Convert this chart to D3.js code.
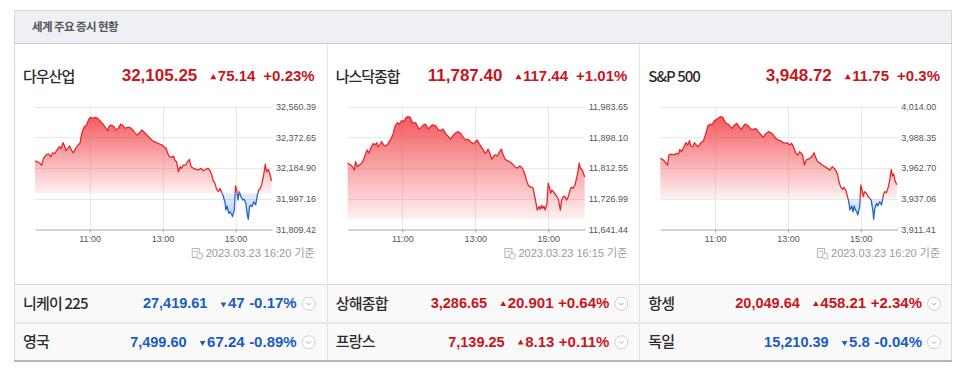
<!DOCTYPE html>
<html>
<head>
<meta charset="utf-8">
<script src="https://cdn.jsdelivr.net/npm/d3@7"></script>
<style>
    body { margin: 0; background: #fff; }
    svg text { font-family: "Liberation Sans", Arial, "Noto Sans CJK KR", sans-serif; }
    svg text.kr { font-family: "Noto Sans CJK KR", "Liberation Sans", sans-serif; }
</style>
</head>
<body>
<svg id="chart" width="960" height="377"></svg>
<script>
// ---- data ----
var titleText = "세계 주요 증시 현황";

var indexNames = ["다우산업", "나스닥종합", "S&P 500"];
var indexCloses = [32105.25, 11787.40, 3948.72];
var indexChanges = [75.14, 117.44, 11.75];
var indexPcts = ["+0.23%", "+1.01%", "+0.3%"];
var indexStamps = ["2023.03.23 16:20 기준", "2023.03.23 16:15 기준", "2023.03.23 16:20 기준"];

var timeTicks = ["11:00", "13:00", "15:00"];
var dowTicks = [32560.39, 32372.65, 32184.90, 31997.16, 31809.42];
var nasdaqTicks = [11983.65, 11898.10, 11812.55, 11726.99, 11641.44];
var spTicks = [4014.00, 3988.35, 3962.70, 3937.06, 3911.41];

// [minutes after 09:30, index value]
var dowSeries = [[0,32228],[4,32223],[8,32214],[11,32201],[14,32244],[18,32264],[22,32271],[26,32254],[29,32278],[33,32275],[36,32295],[40,32315],[43,32305],[46,32340],[48,32326],[51,32291],[54,32305],[57,32320],[60,32295],[63,32278],[67,32305],[71,32326],[74,32336],[77,32397],[81,32438],[85,32448],[88,32479],[91,32495],[95,32489],[99,32495],[103,32489],[107,32475],[110,32459],[112,32454],[117,32428],[120,32413],[122,32442],[126,32448],[130,32438],[133,32418],[137,32428],[141,32454],[144,32448],[148,32428],[152,32434],[156,32434],[161,32418],[165,32397],[168,32387],[172,32401],[176,32418],[179,32407],[184,32387],[188,32373],[192,32356],[196,32346],[200,32340],[205,32332],[209,32326],[212,32315],[216,32305],[218,32278],[221,32254],[225,32250],[228,32258],[230,32234],[233,32223],[236,32162],[239,32193],[241,32183],[244,32203],[248,32203],[251,32223],[254,32238],[257,32193],[261,32183],[265,32177],[269,32173],[273,32183],[277,32168],[281,32177],[285,32183],[288,32168],[291,32142],[293,32111],[296,32091],[299,32054],[302,32040],[304,32060],[307,32040],[310,32009],[313,31969],[314,31928],[316,31952],[319,31907],[321,31917],[324,31897],[325,31887],[328,31928],[330,32075],[332,32050],[334,31989],[336,32040],[339,32009],[342,31989],[344,31993],[347,31969],[349,31907],[351,31871],[353,31948],[355,31958],[357,31948],[360,31978],[363,31958],[366,32019],[368,32050],[370,32054],[373,32081],[376,32136],[379,32209],[381,32162],[384,32177],[387,32142],[389,32105.25]];

var nasdaqSeries = [[0,11826],[5,11821],[8,11816],[11,11807],[13,11830],[16,11816],[19,11821],[23,11826],[26,11835],[30,11854],[32,11863],[35,11854],[39,11872],[42,11881],[45,11877],[48,11883],[50,11872],[53,11877],[56,11886],[59,11877],[62,11874],[66,11879],[71,11893],[75,11909],[78,11930],[82,11939],[85,11935],[89,11945],[93,11942],[95,11951],[99,11956],[103,11954],[105,11945],[108,11937],[112,11939],[115,11928],[118,11921],[122,11928],[126,11935],[129,11933],[133,11921],[136,11928],[140,11933],[145,11930],[149,11919],[153,11917],[157,11921],[161,11909],[166,11900],[169,11893],[173,11902],[178,11911],[182,11914],[186,11909],[190,11898],[194,11891],[198,11893],[202,11886],[206,11881],[209,11883],[213,11891],[216,11881],[219,11874],[223,11863],[226,11854],[229,11858],[231,11865],[234,11854],[237,11837],[240,11844],[242,11849],[246,11846],[250,11858],[253,11865],[255,11854],[259,11837],[263,11833],[266,11830],[271,11824],[275,11816],[279,11812],[283,11818],[286,11815],[289,11807],[292,11793],[294,11779],[297,11765],[300,11759],[302,11760],[305,11756],[308,11732],[310,11714],[312,11695],[315,11705],[317,11697],[319,11709],[321,11700],[323,11706],[325,11695],[328,11714],[330,11770],[332,11759],[334,11742],[336,11751],[339,11746],[342,11737],[345,11732],[347,11723],[350,11695],[352,11723],[355,11732],[357,11734],[360,11723],[363,11732],[366,11751],[368,11759],[371,11756],[374,11765],[376,11779],[379,11802],[381,11826],[383,11812],[386,11807],[388,11798],[390,11787.40]];

var spSeries = [[0,3970.8],[5,3969.4],[9,3967.1],[12,3965.2],[14,3973.6],[19,3974.4],[23,3973.6],[26,3975.0],[30,3974.4],[32,3978.3],[35,3976.3],[39,3980.5],[42,3983.9],[45,3981.9],[48,3985.5],[50,3981.1],[53,3980.5],[56,3983.9],[59,3981.9],[62,3980.5],[66,3983.4],[71,3985.5],[75,3991.7],[78,3997.8],[82,3999.5],[85,3998.7],[89,4002.3],[93,4003.4],[95,4004.3],[99,4005.6],[103,4005.1],[105,4002.9],[108,4000.1],[112,3999.5],[115,3997.3],[118,3995.9],[122,3998.7],[126,4000.1],[129,3997.8],[133,3995.1],[136,3997.3],[140,3999.5],[145,3997.8],[149,3995.1],[153,3995.1],[157,3995.9],[161,3993.1],[166,3990.3],[169,3988.4],[173,3991.1],[178,3993.1],[182,3992.2],[186,3990.3],[190,3987.5],[194,3986.1],[198,3985.5],[202,3983.9],[206,3983.4],[209,3983.9],[213,3981.9],[216,3983.4],[219,3980.5],[223,3975.0],[226,3973.6],[229,3976.3],[231,3975.5],[234,3973.6],[237,3965.2],[240,3969.4],[242,3970.0],[246,3970.8],[250,3972.7],[253,3975.5],[255,3972.2],[259,3968.0],[263,3966.6],[266,3965.2],[271,3963.8],[275,3962.4],[279,3961.0],[283,3963.8],[286,3962.4],[289,3960.4],[292,3956.8],[294,3951.2],[297,3946.5],[300,3944.9],[302,3946.5],[305,3944.3],[308,3938.7],[310,3934.5],[312,3927.6],[315,3930.9],[317,3926.1],[319,3930.9],[321,3927.6],[323,3926.1],[325,3923.4],[328,3930.3],[330,3948.5],[332,3944.3],[334,3938.7],[336,3942.9],[339,3941.5],[342,3938.7],[345,3937.3],[347,3935.9],[350,3926.1],[351,3919.8],[353,3929.0],[356,3933.2],[358,3930.9],[361,3934.5],[364,3931.7],[367,3940.1],[369,3942.9],[372,3942.0],[375,3946.5],[378,3954.1],[380,3961.6],[382,3956.0],[384,3957.7],[386,3952.7],[389,3948.72]];

// bottom table, row by row, left to right
var rowNames = ["니케이 225", "상해종합", "항셍", "영국", "프랑스", "독일"];
var rowValues = ["27,419.61", "3,286.65", "20,049.64", "7,499.60", "7,139.25", "15,210.39"];
var rowChanges = ["47", "20.901", "458.21", "67.24", "8.13", "5.8"];
var rowPcts = ["-0.17%", "+0.64%", "+2.34%", "-0.89%", "+0.11%", "-0.04%"];

// ---- drawing ----
var svg = d3.select("#chart");

var red = "#c8161d", blue = "#1b5cbf";
var lineRed = "#e8262e", lineBlue = "#2266cc";

var boxLeft = 14, boxRight = 952, boxTop = 10, headBottom = 43, chartBottom = 284, boxBottom = 361;
var colW = (boxRight - boxLeft) / 3;
var rowH = (boxBottom - chartBottom) / 2;

var parseTime = d3.timeParse("%Y-%m-%d %H:%M");
var day = "2023-03-23 ";
var openTime = parseTime(day + "09:30");
var closeTime = parseTime(day + "16:00");

var defs = svg.append("defs");

// frame
svg.append("rect")
    .attr("x", boxLeft + 0.5).attr("y", boxTop + 0.5)
    .attr("width", boxRight - boxLeft - 1).attr("height", boxBottom - boxTop - 1)
    .attr("fill", "#fff").attr("stroke", "#d6d9e1");

svg.append("rect")
    .attr("x", boxLeft + 1).attr("y", boxTop + 1)
    .attr("width", boxRight - boxLeft - 2).attr("height", headBottom - boxTop - 1)
    .attr("fill", "#eef0f6");

svg.append("line")
    .attr("x1", boxLeft).attr("x2", boxRight)
    .attr("y1", headBottom + 0.5).attr("y2", headBottom + 0.5)
    .attr("stroke", "#c5c9d5");

svg.append("text")
    .attr("class", "kr")
    .attr("x", 32).attr("y", 30.5)
    .style("font-size", "11.5px")
    .style("font-weight", "bold")
    .style("letter-spacing", "-0.6px")
    .attr("fill", "#555")
    .text(titleText);

// table background and lines
svg.append("rect")
    .attr("x", boxLeft + 1).attr("y", chartBottom)
    .attr("width", boxRight - boxLeft - 2).attr("height", boxBottom - chartBottom)
    .attr("fill", "#f9f9fa");

[chartBottom, chartBottom + rowH].forEach(function (yy) {
    svg.append("line")
        .attr("x1", boxLeft).attr("x2", boxRight)
        .attr("y1", yy + 0.5).attr("y2", yy + 0.5)
        .attr("stroke", "#d9d9d9");
});

svg.append("line")
    .attr("x1", boxLeft).attr("x2", boxRight)
    .attr("y1", boxBottom).attr("y2", boxBottom)
    .attr("stroke", "#9a9ea8").attr("stroke-width", 1.5);

[1, 2].forEach(function (i) {
    var xx = Math.round(boxLeft + i * colW) + 0.5;
    svg.append("line")
        .attr("x1", xx).attr("x2", xx)
        .attr("y1", headBottom + 1).attr("y2", boxBottom - 1)
        .attr("stroke", "#e4e4e4");
});

// value, triangle, change and percent, laid out from the right edge
function drawQuote(g, right, baseline, value, change, pct, up, valueSize, changeSize, gap, triArea, triLift) {
    var color = up ? red : blue;

    var pctText = g.append("text")
        .attr("x", right).attr("y", baseline)
        .attr("text-anchor", "end")
        .style("font-size", changeSize + "px").style("font-weight", "bold")
        .attr("fill", color)
        .text(pct);
    var pctStart = right - pctText.node().getComputedTextLength();

    var chText = g.append("text")
        .attr("x", pctStart - gap).attr("y", baseline)
        .attr("text-anchor", "end")
        .style("font-size", changeSize + "px").style("font-weight", "bold")
        .attr("fill", color)
        .text(change);
    var chStart = pctStart - gap - chText.node().getComputedTextLength();

    var triX = chStart - 4.5;
    g.append("path")
        .attr("d", d3.symbol(d3.symbolTriangle, triArea)())
        .attr("transform", "translate(" + triX + "," + (baseline - triLift) + ") rotate(" + (up ? 0 : 180) + ")")
        .attr("fill", color);

    g.append("text")
        .attr("x", triX - 16).attr("y", baseline)
        .attr("text-anchor", "end")
        .style("font-size", valueSize + "px").style("font-weight", "bold")
        .attr("fill", color)
        .text(value);
}

var panels = [
    {ticks: dowTicks, series: dowSeries},
    {ticks: nasdaqTicks, series: nasdaqSeries},
    {ticks: spTicks, series: spSeries}
];

panels.forEach(function (p, i) {
    var left = boxLeft + i * colW;
    var right = left + colW;
    var g = svg.append("g").attr("class", "panel");

    // heading
    g.append("text")
        .attr("class", "kr")
        .attr("x", left + 9).attr("y", 82)
        .style("font-size", "15px")
        .style("font-weight", 500)
        .style("letter-spacing", "-1px")
        .attr("fill", "#2b2b2b")
        .text(indexNames[i]);

    drawQuote(g, right - 12, 81, d3.format(",.2f")(indexCloses[i]), String(indexChanges[i]),
        indexPcts[i], true, 17, 15, 8, 16, 3.5);

    // chart
    var plotLeft = left + 21, plotRight = plotLeft + 237;
    var plotTop = 106.7, plotBottom = 229.3;

    var x = d3.scaleTime().domain([openTime, closeTime]).range([plotLeft, plotRight]);
    var y = d3.scaleLinear().domain(d3.extent(p.ticks)).range([plotBottom, plotTop]);

    var prevClose = indexCloses[i] - indexChanges[i];
    var baseY = y(prevClose);

    var data = p.series.map(function (d) {
        return {t: d3.timeMinute.offset(openTime, d[0]), v: d[1]};
    });
    var tickDates = timeTicks.map(function (t) { return parseTime(day + t); });

    // grid
    g.append("g").selectAll("line")
        .data(p.ticks.filter(function (t) { return t > d3.min(p.ticks); }))
        .join("line")
        .attr("x1", plotLeft).attr("x2", plotRight)
        .attr("y1", function (d) { return Math.round(y(d)) + 0.5; })
        .attr("y2", function (d) { return Math.round(y(d)) + 0.5; })
        .attr("stroke", "#e9e9e9");

    g.append("g").selectAll("line")
        .data(tickDates)
        .join("line")
        .attr("x1", function (d) { return Math.round(x(d)) + 0.5; })
        .attr("x2", function (d) { return Math.round(x(d)) + 0.5; })
        .attr("y1", plotTop).attr("y2", plotBottom)
        .attr("stroke", "#e9e9e9");

    // gradients
    var redId = "redFill" + i, blueId = "blueFill" + i;
    var rg = defs.append("linearGradient").attr("id", redId)
        .attr("gradientUnits", "userSpaceOnUse")
        .attr("x1", 0).attr("x2", 0).attr("y1", plotTop + 8).attr("y2", baseY);
    rg.append("stop").attr("offset", 0).attr("stop-color", "#f03a3f").attr("stop-opacity", 0.85);
    rg.append("stop").attr("offset", 1).attr("stop-color", "#f03a3f").attr("stop-opacity", 0.07);

    var bg = defs.append("linearGradient").attr("id", blueId)
        .attr("gradientUnits", "userSpaceOnUse")
        .attr("x1", 0).attr("x2", 0).attr("y1", baseY).attr("y2", plotBottom);
    bg.append("stop").attr("offset", 0).attr("stop-color", "#3b7fe0").attr("stop-opacity", 0.12);
    bg.append("stop").attr("offset", 1).attr("stop-color", "#3b7fe0").attr("stop-opacity", 0.5);

    // clips above / below the previous close
    defs.append("clipPath").attr("id", "above" + i)
        .append("rect")
        .attr("x", plotLeft - 2).attr("y", plotTop - 10)
        .attr("width", plotRight - plotLeft + 4).attr("height", baseY - plotTop + 10);
    defs.append("clipPath").attr("id", "below" + i)
        .append("rect")
        .attr("x", plotLeft - 2).attr("y", baseY)
        .attr("width", plotRight - plotLeft + 4).attr("height", plotBottom - baseY + 10);

    var area = d3.area()
        .x(function (d) { return x(d.t); })
        .y0(baseY)
        .y1(function (d) { return y(d.v); });

    var line = d3.line()
        .x(function (d) { return x(d.t); })
        .y(function (d) { return y(d.v); });

    g.append("path").datum(data)
        .attr("d", area)
        .attr("fill", "url(#" + redId + ")")
        .attr("clip-path", "url(#above" + i + ")");
    g.append("path").datum(data)
        .attr("d", area)
        .attr("fill", "url(#" + blueId + ")")
        .attr("clip-path", "url(#below" + i + ")");

    g.append("path").datum(data)
        .attr("d", line)
        .attr("fill", "none")
        .attr("stroke", lineRed).attr("stroke-width", 1.3)
        .attr("stroke-linejoin", "round")
        .attr("clip-path", "url(#above" + i + ")");
    g.append("path").datum(data)
        .attr("d", line)
        .attr("fill", "none")
        .attr("stroke", lineBlue).attr("stroke-width", 1.3)
        .attr("stroke-linejoin", "round")
        .attr("clip-path", "url(#below" + i + ")");

    // axes
    var xAxis = g.append("g")
        .attr("transform", "translate(0," + (Math.round(plotBottom) + 0.5) + ")")
        .call(d3.axisBottom(x).tickValues(tickDates).tickFormat(d3.timeFormat("%H:%M"))
            .tickSize(3).tickSizeOuter(0).tickPadding(3));
    xAxis.select(".domain").attr("stroke", "#a9a9a9");
    xAxis.selectAll(".tick line").attr("stroke", "#a9a9a9");
    xAxis.selectAll("text").style("font-size", "9px").attr("fill", "#555");

    var yAxis = g.append("g")
        .attr("transform", "translate(" + plotRight + ",0)")
        .call(d3.axisRight(y).tickValues(p.ticks).tickFormat(d3.format(",.2f"))
            .tickSize(0).tickPadding(4));
    yAxis.select(".domain").remove();
    yAxis.selectAll("text").style("font-size", "9px").attr("fill", "#555");

    // timestamp
    var stamp = g.append("text")
        .attr("x", right - 12).attr("y", 257)
        .attr("text-anchor", "end")
        .style("font-size", "11px")
        .attr("fill", "#9a9a9a")
        .text(indexStamps[i]);
    var sx = right - 12 - stamp.node().getComputedTextLength() - 14;
    g.append("rect")
        .attr("x", sx + 0.5).attr("y", 248.5).attr("width", 7).attr("height", 9)
        .attr("fill", "#fff").attr("stroke", "#b5b5b5");
    g.append("line")
        .attr("x1", sx + 2).attr("x2", sx + 6).attr("y1", 251.5).attr("y2", 251.5)
        .attr("stroke", "#b5b5b5");
    g.append("circle")
        .attr("cx", sx + 8).attr("cy", 256).attr("r", 3)
        .attr("fill", "#fff").attr("stroke", "#b5b5b5");
});

// bottom table
rowNames.forEach(function (name, k) {
    var col = k % 3, row = Math.floor(k / 3);
    var left = boxLeft + col * colW, right = left + colW;
    var mid = chartBottom + row * rowH + rowH / 2;
    var up = rowPcts[k].charAt(0) === "+";
    var g = svg.append("g").attr("class", "row");

    g.append("text")
        .attr("class", "kr")
        .attr("x", left + 9).attr("y", mid + 5.5)
        .style("font-size", "15px")
        .style("font-weight", 500)
        .style("letter-spacing", "-0.8px")
        .attr("fill", "#2b2b2b")
        .text(name);

    drawQuote(g, right - 30, mid + 5, rowValues[k], rowChanges[k], rowPcts[k], up, 14.5, 15, 4.5, 14, 4);

    g.append("circle")
        .attr("cx", right - 18).attr("cy", mid + 0.5).attr("r", 6.5)
        .attr("fill", "#fff").attr("stroke", "#cfcfcf");
    g.append("path")
        .attr("d", "M-2.2,-0.8L0,1.4L2.2,-0.8")
        .attr("transform", "translate(" + (right - 18) + "," + (mid + 0.5) + ")")
        .attr("fill", "none").attr("stroke", "#aaa").attr("stroke-width", 1);
});
</script>
</body>
</html>
